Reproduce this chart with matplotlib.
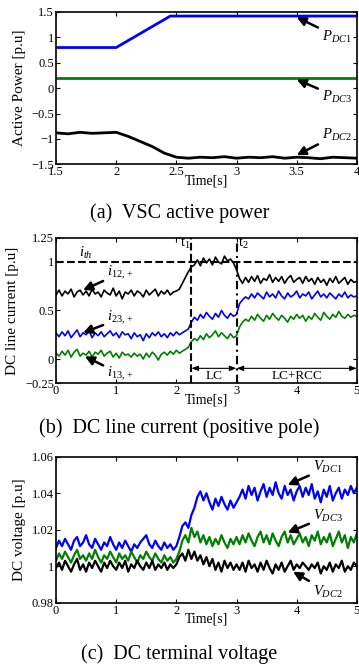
import numpy as np
import matplotlib
matplotlib.use('Agg')
from matplotlib import pyplot as plt
from matplotlib.ticker import FuncFormatter

plt.rcParams['font.family'] = ['Liberation Serif', 'DejaVu Serif']
plt.rcParams['mathtext.fontset'] = 'custom'
plt.rcParams['mathtext.rm'] = 'Liberation Serif'
plt.rcParams['mathtext.it'] = 'Liberation Serif:italic'
plt.rcParams['axes.unicode_minus'] = True

# ---- (a) VSC active power ----
t_p1 = [1.5, 2.0, 2.45, 4.0]
p_dc1 = [0.8, 0.8, 1.42, 1.42]
t_p3 = [1.5, 4.0]
p_dc3 = [0.2, 0.2]
t_p2 = np.linspace(1.5, 4.0, 26)
p_dc2 = [-0.88, -0.90, -0.87, -0.89, -0.88, -0.87, -0.95, -1.05, -1.15, -1.28,
         -1.36, -1.38, -1.36, -1.37, -1.35, -1.38, -1.36, -1.37, -1.35, -1.38,
         -1.36, -1.37, -1.39, -1.36, -1.37, -1.38]

# ---- (b) DC line current ----
t_b = np.linspace(0, 5, 101)
i12 = [0.66, 0.71, 0.65, 0.70, 0.67, 0.72, 0.64, 0.69, 0.71, 0.66,
       0.70, 0.65, 0.72, 0.67, 0.69, 0.64, 0.71, 0.68, 0.66, 0.73,
       0.65, 0.70, 0.62, 0.69, 0.67, 0.71, 0.65, 0.70, 0.68, 0.64,
       0.71, 0.66, 0.69, 0.72, 0.65, 0.70, 0.67, 0.71, 0.66, 0.69,
       0.70,
       0.72, 0.78, 0.84, 0.90, 0.95,
       0.97, 1.02, 0.96, 1.04, 0.99, 1.03, 0.97, 1.05, 1.00, 0.98, 1.06, 1.01, 1.03, 0.99, 0.92,
       0.83, 0.78, 0.84, 0.79, 0.85, 0.80, 0.86, 0.78, 0.83, 0.81,
       0.87, 0.79, 0.84, 0.80, 0.85, 0.78, 0.83, 0.86, 0.79, 0.82,
       0.84, 0.78, 0.85, 0.80, 0.83, 0.77, 0.84, 0.79, 0.82, 0.76,
       0.83, 0.79, 0.85, 0.78, 0.81, 0.84, 0.77, 0.82, 0.79, 0.80]
i23 = [0.27, 0.23, 0.28, 0.24, 0.29, 0.22, 0.26, 0.30, 0.23, 0.27,
       0.25, 0.29, 0.22, 0.27, 0.24, 0.28, 0.23, 0.26, 0.29, 0.24,
       0.27, 0.22, 0.28, 0.25, 0.26, 0.21, 0.27, 0.23, 0.25, 0.19,
       0.26, 0.22, 0.27, 0.24, 0.28, 0.23, 0.26, 0.22, 0.27, 0.24,
       0.28, 0.25, 0.27, 0.29, 0.31,
       0.38, 0.43, 0.40, 0.46, 0.42, 0.48, 0.44, 0.41, 0.47, 0.43, 0.50, 0.45, 0.42, 0.47, 0.44, 0.46,
       0.57, 0.61, 0.64, 0.62, 0.67, 0.63, 0.68, 0.65, 0.62, 0.69,
       0.64, 0.67, 0.63, 0.70, 0.65, 0.62, 0.68, 0.64, 0.66, 0.70,
       0.63, 0.67, 0.65, 0.69, 0.62, 0.66, 0.70, 0.64, 0.67, 0.63,
       0.68, 0.65, 0.62, 0.67, 0.64, 0.69, 0.63, 0.66, 0.64, 0.65]
i13 = [0.06, 0.03, 0.08, 0.04, 0.09, 0.02, 0.07, 0.10, 0.03, 0.06,
       0.04, 0.08, 0.02, 0.07, 0.05, 0.09, 0.03, 0.06, 0.08, 0.02,
       0.06, 0.01, 0.07, 0.04, 0.05, 0.02, 0.06, 0.03, 0.05, 0.00,
       0.06, 0.02, 0.07, 0.04, -0.01, 0.05, 0.07, 0.04, 0.08, 0.05,
       0.09, 0.06, 0.08, 0.10, 0.12,
       0.18, 0.21, 0.19, 0.24, 0.20, 0.26, 0.22, 0.25, 0.29, 0.23, 0.27, 0.24, 0.21, 0.26, 0.22, 0.24,
       0.33, 0.38, 0.41, 0.39, 0.44, 0.40, 0.46, 0.42, 0.39, 0.45,
       0.41, 0.47, 0.43, 0.40, 0.45, 0.42, 0.38, 0.44, 0.41, 0.46,
       0.42, 0.45, 0.39, 0.44, 0.41, 0.47, 0.43, 0.40, 0.48, 0.44,
       0.41, 0.46, 0.43, 0.49, 0.44, 0.42, 0.46, 0.43, 0.45, 0.44]
i_th = 1.0
t1, t2 = 2.25, 3.0

# ---- (c) DC terminal voltage ----
t_c = np.linspace(0, 5, 101)
v_dc1 = [1.010, 1.014, 1.011, 1.015, 1.012, 1.009, 1.014, 1.016, 1.011, 1.013,
         1.017, 1.012, 1.010, 1.015, 1.012, 1.009, 1.013, 1.011, 1.016, 1.012,
         1.009, 1.013, 1.010, 1.014, 1.011, 1.008, 1.012, 1.010, 1.013, 1.015,
         1.017, 1.012, 1.010, 1.014, 1.011, 1.009, 1.013, 1.010, 1.012, 1.009,
         1.011, 1.016,
         1.022, 1.024, 1.021, 1.028, 1.032, 1.038, 1.041, 1.036, 1.040, 1.035,
         1.031, 1.037, 1.033, 1.038, 1.034, 1.031, 1.036, 1.032, 1.035,
         1.038, 1.042, 1.037, 1.044, 1.039, 1.043, 1.036, 1.041, 1.045, 1.038,
         1.043, 1.039, 1.046, 1.040, 1.037, 1.044, 1.039, 1.042, 1.036, 1.041,
         1.044, 1.038, 1.043, 1.039, 1.045, 1.037, 1.041, 1.035, 1.042, 1.038,
         1.044, 1.036, 1.040, 1.043, 1.037, 1.042, 1.039, 1.044, 1.040, 1.043]
v_dc3 = [1.003, 1.007, 1.004, 1.008, 1.005, 1.002, 1.006, 1.009, 1.004, 1.006,
         1.003, 1.007, 1.004, 1.009, 1.005, 1.002, 1.006, 1.004, 1.008, 1.005,
         1.002, 1.007, 1.004, 1.006, 1.003, 1.008, 1.005, 1.002, 1.006, 1.004,
         1.008, 1.005, 1.003, 1.007, 1.004, 1.002, 1.006, 1.003, 1.005, 1.002,
         1.004, 1.008,
         1.014, 1.017, 1.013, 1.021, 1.016, 1.019, 1.013, 1.017, 1.012, 1.016,
         1.011, 1.015, 1.012, 1.017, 1.013, 1.010, 1.015, 1.012, 1.016,
         1.012, 1.017, 1.013, 1.018, 1.014, 1.011, 1.016, 1.019, 1.013, 1.017,
         1.012, 1.018, 1.014, 1.011, 1.016, 1.019, 1.013, 1.017, 1.012, 1.015,
         1.018, 1.013, 1.016, 1.011, 1.017, 1.014, 1.019, 1.012, 1.016, 1.013,
         1.018, 1.011, 1.015, 1.019, 1.013, 1.017, 1.010, 1.016, 1.013, 1.018]
v_dc2 = [0.999, 1.002, 0.998, 1.003, 1.000, 0.997, 1.001, 1.004, 0.998, 1.001,
         0.997, 1.002, 0.999, 1.003, 1.000, 0.997, 1.002, 0.999, 1.003, 1.000,
         0.998, 1.002, 0.999, 1.003, 0.997, 1.001, 0.999, 1.003, 1.000, 0.998,
         1.002, 0.999, 1.003, 0.998, 1.001, 0.999, 1.002, 0.998, 1.001, 0.999,
         1.001, 1.005,
         1.007, 1.003, 1.009, 1.004, 1.008, 1.003, 1.006, 1.001, 1.005, 1.000,
         1.004, 0.998, 1.002, 0.997, 1.003, 0.999, 1.002, 0.998, 1.001,
         0.998, 1.002, 0.997, 1.003, 0.999, 1.001, 0.997, 1.002, 0.998, 1.003,
         0.999, 0.996, 1.001, 0.998, 1.002, 0.997, 1.000, 1.003, 0.998, 1.001,
         0.999, 1.002, 1.000, 0.998, 1.001, 0.999, 1.002, 0.996, 1.000, 0.998,
         1.002, 0.997, 1.001, 0.999, 1.003, 0.997, 1.000, 0.998, 1.002, 1.000]

blue = '#0000ff'
green = '#008000'
tick_fs = 9
lab_fs = 11
xlab_fs = 10
cap_fs = 14.5
ann_fs = 10.5

fig = plt.figure(figsize=(3.59, 6.66), dpi=100)
left, width = 0.156, 0.838
ax_a = fig.add_axes([left, 0.7533, width, 0.2287])
ax_b = fig.add_axes([left, 0.4245, width, 0.2186])
ax_c = fig.add_axes([left, 0.0950, width, 0.2193])

fmt = FuncFormatter(lambda v, p: ('%g' % v).replace('-', '\u2212'))


def style(ax, ylabel):
    ax.tick_params(direction='in', top=True, right=True, length=3, width=0.8,
                   labelsize=tick_fs, pad=1.5)
    for s in ax.spines.values():
        s.set_linewidth(1.2)
    ax.set_xlabel('Time[s]', fontsize=xlab_fs, labelpad=-3)
    ax.set_ylabel(ylabel, fontsize=lab_fs, labelpad=4)
    ax.xaxis.set_major_formatter(fmt)
    ax.yaxis.set_major_formatter(fmt)


def arrow(ax, label, tip, txt):
    ax.annotate(label, xy=tip, xytext=txt, fontsize=ann_fs, ha='left', va='center',
                arrowprops=dict(arrowstyle='-|>,head_width=0.25,head_length=0.5',
                                lw=1.8, color='k', shrinkA=1, shrinkB=0))


# (a)
ax_a.plot(t_p1, p_dc1, color=blue, lw=2)
ax_a.plot(t_p3, p_dc3, color=green, lw=2)
ax_a.plot(t_p2, p_dc2, color='k', lw=2)
ax_a.set_xlim(1.5, 4)
ax_a.set_ylim(-1.5, 1.5)
ax_a.set_xticks([1.5, 2, 2.5, 3, 3.5, 4])
ax_a.set_yticks([-1.5, -1, -0.5, 0, 0.5, 1, 1.5])
style(ax_a, 'Active Power [p.u]')
arrow(ax_a, r'$P_{DC1}$', (3.5, 1.40), (3.71, 1.01))
arrow(ax_a, r'$P_{DC3}$', (3.5, 0.17), (3.71, -0.17))
arrow(ax_a, r'$P_{DC2}$', (3.5, -1.32), (3.71, -0.92))

# (b)
ax_b.plot(t_b, i12, color='k', lw=1.2)
ax_b.plot(t_b, i23, color=blue, lw=1.2)
ax_b.plot(t_b, i13, color=green, lw=1.2)
ax_b.axhline(i_th, color='k', ls='--', lw=1.5)
ax_b.axvline(t1, color='k', ls='--', lw=1.5)
ax_b.axvline(t2, color='k', ls=(0, (4, 2, 1, 2)), lw=1.5)
ax_b.set_xlim(0, 5)
ax_b.set_ylim(-0.25, 1.25)
ax_b.set_xticks([0, 1, 2, 3, 4, 5])
ax_b.set_yticks([-0.25, 0, 0.5, 1, 1.25])
style(ax_b, 'DC line current [p.u]')
ax_b.text(0.5, 1.095, r'$i_{th}$', fontsize=ann_fs, ha='center', va='center')
ax_b.text(2.06, 1.195, r'$\mathrm{t}_1$', fontsize=ann_fs, ha='left', va='center')
ax_b.text(3.03, 1.195, r'$\mathrm{t}_2$', fontsize=ann_fs, ha='left', va='center')
arrow(ax_b, r'$i_{12,+}$', (0.45, 0.71), (0.85, 0.886))
arrow(ax_b, r'$i_{23,+}$', (0.45, 0.27), (0.85, 0.42))
arrow(ax_b, r'$i_{13,+}$', (0.48, 0.027), (0.85, -0.155))
for a, b in [(t1, t2), (t2, 5)]:
    ax_b.annotate('', xy=(a, -0.096), xytext=(b, -0.096),
                  arrowprops=dict(arrowstyle='<|-|>,head_width=0.15,head_length=0.4',
                                  lw=0.8, color='k', shrinkA=0, shrinkB=0))
ax_b.text((t1 + t2) / 2, -0.18, 'LC', fontsize=9.5, ha='center', va='center')
ax_b.text((t2 + 5) / 2, -0.18, 'LC+RCC', fontsize=9.5, ha='center', va='center')

# (c)
ax_c.plot(t_c, v_dc1, color=blue, lw=1.6)
ax_c.plot(t_c, v_dc3, color=green, lw=1.6)
ax_c.plot(t_c, v_dc2, color='k', lw=1.6)
ax_c.set_xlim(0, 5)
ax_c.set_ylim(0.98, 1.06)
ax_c.set_xticks([0, 1, 2, 3, 4, 5])
ax_c.set_yticks([0.98, 1.0, 1.02, 1.04, 1.06])
style(ax_c, 'DC voltage [p.u]')
arrow(ax_c, r'$V_{DC1}$', (3.85, 1.0445), (4.27, 1.0542))
arrow(ax_c, r'$V_{DC3}$', (3.85, 1.0184), (4.27, 1.0275))
arrow(ax_c, r'$V_{DC2}$', (3.94, 0.997), (4.27, 0.986))

fig.text(0.5, 1 - 213 / 666, '(a)  VSC active power', fontsize=cap_fs, ha='center', va='center')
fig.text(0.5, 1 - 428 / 666, '(b)  DC line current (positive pole)', fontsize=cap_fs, ha='center', va='center')
fig.text(0.5, 1 - 654 / 666, '(c)  DC terminal voltage', fontsize=cap_fs, ha='center', va='center')

fig.savefig('out.png', dpi=100)
